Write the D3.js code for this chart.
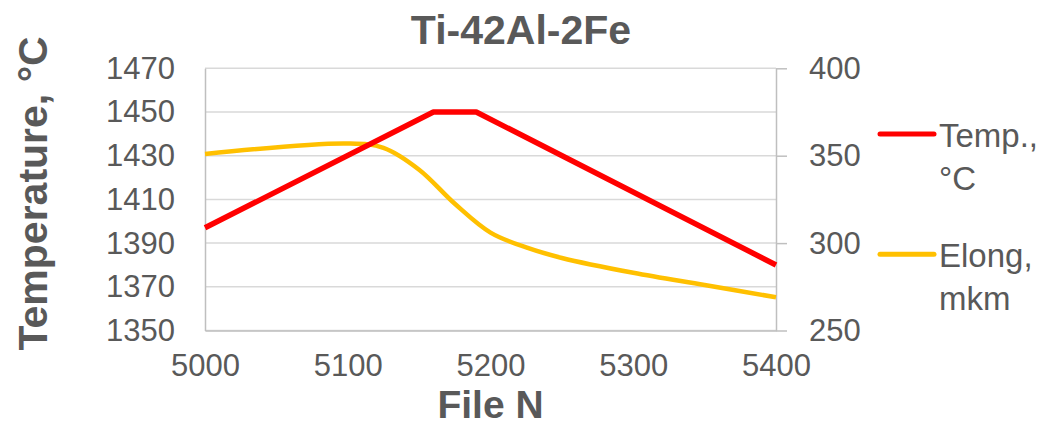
<!DOCTYPE html>
<html>
<head>
<meta charset="utf-8">
<script src="https://cdn.jsdelivr.net/npm/d3@7/dist/d3.min.js"></script>
<style>
  html, body { margin: 0; padding: 0; background: #fff; }
  svg { display: block; font-family: "Liberation Sans", Arial, sans-serif; }
</style>
</head>
<body>
<svg id="chart" width="1055" height="426"></svg>
<script>
// Temperature series (left axis)
const tempFile = [5000, 5160, 5190, 5400];
const tempValue = [1397, 1450, 1450, 1380];

// Elongation series (right axis)
const elongFile = [5000, 5100, 5125, 5150, 5175, 5200, 5225, 5250, 5300, 5350, 5400];
const elongValue = [351, 357, 354.5, 342, 322.5, 306, 297.5, 291.5, 283, 276, 269];

// Tick labels
const xTicks = [5000, 5100, 5200, 5300, 5400];
const yLeftTicks = [1350, 1370, 1390, 1410, 1430, 1450, 1470];
const yRightTicks = [250, 300, 350, 400];

const seriesNames = ["Temp., °C", "Elong, mkm"];

const textColor = "#595959";
const tickFont = 31;
const svg = d3.select("#chart");

const plot = { left: 205, right: 776, top: 68.3, bottom: 330.5 };

const x = d3.scaleLinear().domain([5000, 5400]).range([plot.left, plot.right]);
const yL = d3.scaleLinear().domain([1350, 1470]).range([plot.bottom, plot.top]);
const yR = d3.scaleLinear().domain([250, 400]).range([plot.bottom, plot.top]);

// Horizontal gridlines
svg.append("g")
  .selectAll("line")
  .data(yLeftTicks)
  .join("line")
  .attr("x1", plot.left).attr("x2", plot.right)
  .attr("y1", d => yL(d)).attr("y2", d => yL(d))
  .attr("stroke", "#d9d9d9").attr("stroke-width", 1.5);

// Left axis
const gL = svg.append("g")
  .attr("transform", `translate(${plot.left},0)`)
  .call(d3.axisLeft(yL).tickValues(yLeftTicks).tickSize(0).tickPadding(30).tickFormat(d3.format("d")));
gL.select(".domain").attr("stroke", "#bfbfbf").attr("stroke-width", 1.5);
gL.selectAll("text").attr("font-size", tickFont).attr("fill", textColor).attr("font-family", "Liberation Sans, Arial, sans-serif");

// Right axis
const gR = svg.append("g")
  .attr("transform", `translate(${plot.right},0)`)
  .call(d3.axisRight(yR).tickValues(yRightTicks).tickSize(11).tickSizeOuter(0).tickPadding(22).tickFormat(d3.format("d")));
gR.select(".domain").attr("stroke", "#bfbfbf").attr("stroke-width", 1.5);
gR.selectAll(".tick line").attr("stroke", "#bfbfbf").attr("stroke-width", 1.5);
gR.selectAll("text").attr("font-size", tickFont).attr("fill", textColor).attr("font-family", "Liberation Sans, Arial, sans-serif");

// Bottom axis
const gB = svg.append("g")
  .attr("transform", `translate(0,${plot.bottom})`)
  .call(d3.axisBottom(x).tickValues(xTicks).tickSize(0).tickPadding(23).tickFormat(d3.format("d")));
gB.select(".domain").attr("stroke", "#bfbfbf").attr("stroke-width", 1.5);
gB.selectAll("text").attr("font-size", tickFont).attr("fill", textColor).attr("font-family", "Liberation Sans, Arial, sans-serif");

// Series lines
const tempData = tempFile.map((f, i) => [f, tempValue[i]]);
const elongData = elongFile.map((f, i) => [f, elongValue[i]]);

svg.append("path")
  .datum(elongData)
  .attr("fill", "none")
  .attr("stroke", "#ffc000")
  .attr("stroke-width", 4.5)
  .attr("stroke-linejoin", "round")
  .attr("d", d3.line().x(d => x(d[0])).y(d => yR(d[1])).curve(d3.curveCatmullRom.alpha(0.5)));

svg.append("path")
  .datum(tempData)
  .attr("fill", "none")
  .attr("stroke", "#ff0000")
  .attr("stroke-width", 5.5)
  .attr("stroke-linejoin", "round")
  .attr("d", d3.line().x(d => x(d[0])).y(d => yL(d[1])));

// Titles
svg.append("text")
  .attr("x", 521).attr("y", 44)
  .attr("text-anchor", "middle")
  .attr("font-size", 41).attr("font-weight", "bold").attr("fill", textColor)
  .text("Ti-42Al-2Fe");

svg.append("text")
  .attr("transform", `translate(47,${(plot.top + plot.bottom) / 2 - 6}) rotate(-90)`)
  .attr("text-anchor", "middle")
  .attr("font-size", 41).attr("font-weight", "bold").attr("fill", textColor)
  .text("Temperature, °C");

svg.append("text")
  .attr("x", (plot.left + plot.right) / 2).attr("y", 417.5)
  .attr("text-anchor", "middle")
  .attr("font-size", 39).attr("font-weight", "bold").attr("fill", textColor)
  .text("File N");

// Legend
const legend = [
  { color: "#ff0000", y: 134, lines: ["Temp.,", "°C"] },
  { color: "#ffc000", y: 254.3, lines: ["Elong,", "mkm"] }
];
legend.forEach((item, i) => {
  const g = svg.append("g");
  g.append("line")
    .attr("x1", 880).attr("x2", 934)
    .attr("y1", item.y).attr("y2", item.y)
    .attr("stroke", item.color).attr("stroke-width", 5)
    .attr("stroke-linecap", "round");
  const t = g.append("text")
    .attr("x", 939).attr("y", item.y + 12.5)
    .attr("font-size", 33).attr("fill", textColor);
  item.lines.forEach((s, j) => {
    t.append("tspan").attr("x", 939).attr("dy", j === 0 ? 0 : 43.5).text(s);
  });
  g.append("title").text(seriesNames[i]);
});
</script>
</body>
</html>
